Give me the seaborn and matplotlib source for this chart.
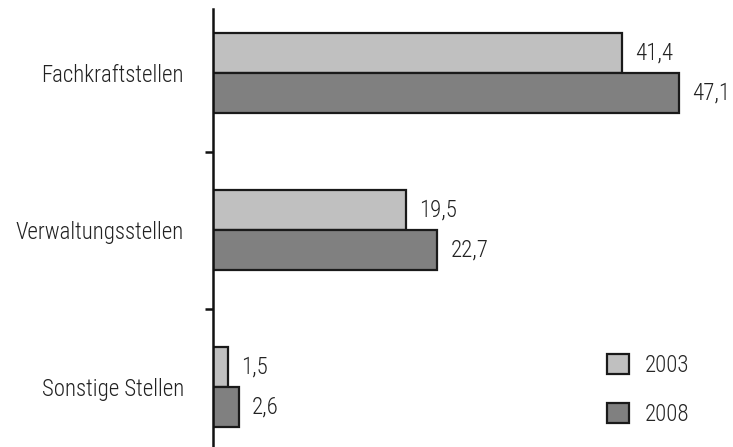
import matplotlib
matplotlib.use("Agg")
import matplotlib.pyplot as plt
import seaborn as sns
import pandas as pd
from matplotlib.ticker import FixedLocator

categories = ["Fachkraftstellen", "Verwaltungsstellen", "Sonstige Stellen"]
years = ["2003", "2008"]
values_2003 = [41.4, 19.5, 1.5]
values_2008 = [47.1, 22.7, 2.6]

df = pd.DataFrame({
    "Kategorie": categories * 2,
    "Jahr": [years[0]] * 3 + [years[1]] * 3,
    "Wert": values_2003 + values_2008,
})

sns.set_style("white")
plt.rcParams['font.family'] = ['Roboto Condensed', 'DejaVu Sans']
plt.rcParams['font.weight'] = 'light'

FS = 16.5
fig = plt.figure(figsize=(7.33, 4.47), dpi=100)
ax = fig.add_axes([213 / 733, 0, 520 / 733, 438 / 447])

sns.barplot(data=df, y="Kategorie", x="Wert", hue="Jahr", orient="h",
            palette=["#c0c0c0", "#808080"], width=0.51,
            edgecolor="#1a1a1a", linewidth=1.6, ax=ax, legend=True)

for cont in ax.containers:
    ax.bar_label(cont, labels=[f"{v:.1f}".replace(".", ",") for v in cont.datavalues],
                 padding=9.5, fontsize=FS, color="#222222")

ax.set_xlim(0, 52.6)
ax.set_ylim(2.382, -0.408)
ax.set_xlabel("")
ax.set_ylabel("")
ax.set_xticks([])
for s in ["top", "right", "bottom"]:
    ax.spines[s].set_visible(False)
ax.spines["left"].set_color("#111111")
ax.spines["left"].set_linewidth(1.8)
ax.tick_params(axis="y", which="major", length=0, pad=21, labelsize=FS, labelcolor="#222222")
ax.yaxis.set_minor_locator(FixedLocator([0.5, 1.5]))
ax.tick_params(axis="y", which="minor", length=5.5, width=1.8, color="#111111", left=True)

handles, labels = ax.get_legend_handles_labels()
ax.legend(handles, labels, loc="upper left", bbox_to_anchor=(607 / 733, 1 - 354 / 447),
          bbox_transform=fig.transFigure, frameon=False, fontsize=FS,
          handlelength=0.98, handleheight=0.98, labelspacing=1.13, handletextpad=0.65,
          borderpad=0, borderaxespad=0)

fig.savefig("out.png", dpi=100)
